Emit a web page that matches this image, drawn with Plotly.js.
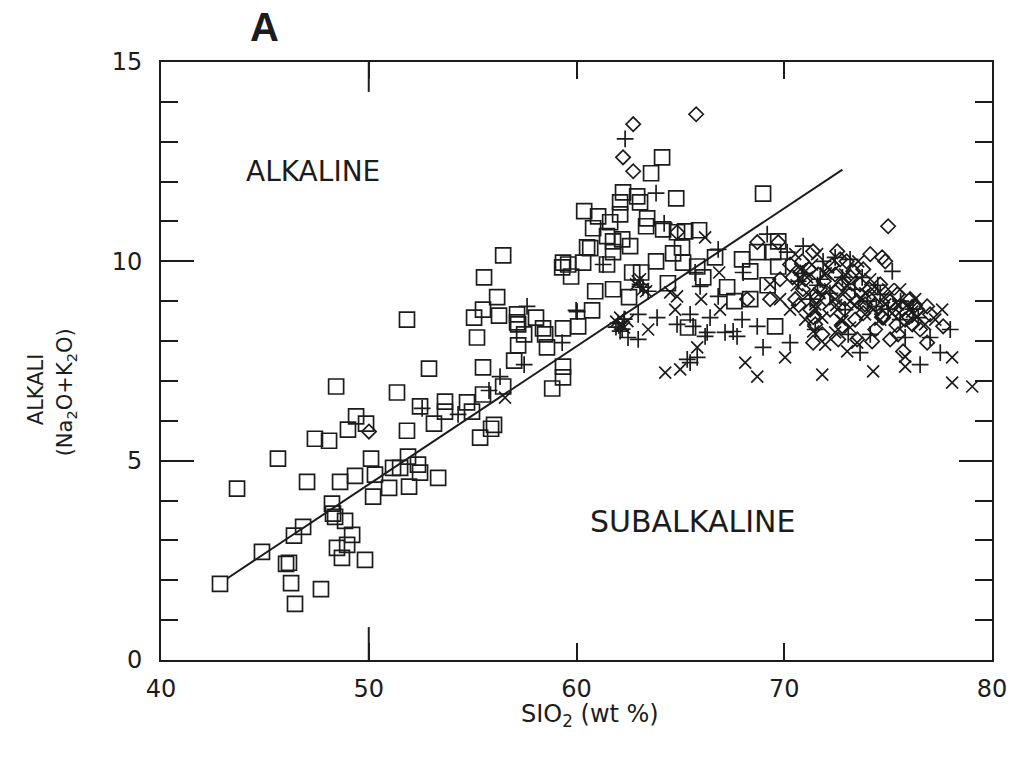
<!DOCTYPE html>
<html>
<head>
<meta charset="utf-8">
<script src="https://cdn.plot.ly/plotly-3.0.1.min.js"></script>
<style>html,body{margin:0;padding:0;background:#fff;}#chart{width:1012px;height:760px;}</style>
</head>
<body>
<div id="chart"></div>
<script>
// Squares
const sqX = [42.84,44.86,43.66,45.63,46.40,46.84,46.02,46.16,46.26,46.45,47.70,47.03,48.62,49.34,48.23,48.28,48.38,48.86,49.20,48.96,48.47,48.71,49.82,50.11,50.30,50.21,50.98,51.17,51.51,51.89,51.94,52.37,52.47,53.34,51.84,52.90,48.43,51.36,52.47,53.67,53.67,49.39,49.87,49.00,51.84,53.14,47.41,48.09,54.73,54.97,55.50,56.47,56.03,55.89,55.36,56.47,55.55,56.18,55.50,55.07,56.27,57.14,57.19,58.05,58.39,57.48,59.35,60.08,55.21,57.19,58.58,57.00,55.50,59.35,59.35,58.83,57.14,58.49,59.35,59.74,60.32,60.51,59.31,59.60,60.37,61.04,61.62,60.80,61.47,61.76,62.20,62.58,60.66,61.76,64.12,63.59,62.24,62.92,63.06,62.10,62.10,64.80,63.40,63.35,64.17,64.84,65.23,65.90,65.08,61.47,62.68,63.11,63.83,64.65,65.13,65.81,60.90,61.76,62.53,60.75,66.67,67.25,67.97,68.36,68.70,69.71,69.47,69.71,69.56,65.37,68.36,68.98,64.40,66.10,67.60,69.20];
const sqY = [1.91,2.71,4.30,5.05,3.12,3.34,2.41,2.44,1.93,1.41,1.78,4.47,4.47,4.62,3.92,3.67,3.59,3.49,3.14,2.89,2.81,2.56,2.51,5.05,4.65,4.10,4.32,4.82,4.82,5.10,4.35,4.90,4.70,4.57,8.54,7.31,6.86,6.71,6.36,6.48,6.23,6.11,5.93,5.78,5.75,5.93,5.55,5.50,6.46,6.23,6.66,6.86,5.90,5.80,5.58,10.15,9.60,9.10,8.79,8.59,8.64,8.67,8.42,8.59,8.32,8.17,8.32,8.37,8.09,7.89,7.84,7.51,7.34,7.36,7.09,6.81,8.47,8.17,9.97,9.62,9.97,10.35,9.85,9.92,11.26,11.13,10.98,10.83,10.63,10.50,10.55,10.38,10.33,10.23,12.61,12.21,11.73,11.63,11.48,11.48,11.18,11.58,11.08,10.88,10.80,10.73,10.75,10.78,10.35,9.92,9.72,9.72,10.00,10.20,9.97,9.87,9.25,9.30,9.10,8.77,10.10,9.35,10.05,9.75,10.23,10.50,10.23,9.87,8.37,8.34,9.05,11.70,9.45,9.60,9.00,9.40];

// Plus signs
const plusX = [52.57,54.30,57.62,59.98,59.31,57.48,56.32,55.79,62.34,63.83,64.22,61.28,66.82,65.71,60.03,62.97,63.88,62.48,62.97,64.84,65.61,66.29,67.15,67.54,66.19,65.81,65.47,69.18,70.14,68.02,65.95,66.82,65.47,66.43,67.73,68.98,70.28,65.33,67.97,68.70,73.65,76.54,77.51,77.99,70.91,71.87,73.17,62.00,62.20,62.30,61.90,63.06,63.45,71.73,74.62,75.58,72.93,74.14,75.82,71.25,70.67,72.45,73.75,75.20,74.43,76.45,77.02,73.08,71.49,70.90,71.60,72.20,72.80,73.40,74.00,74.50,75.00,75.60,76.20,62.10,63.20];
const plusY = [6.31,6.16,8.87,8.77,7.96,7.41,7.11,6.76,13.07,11.71,10.95,9.92,10.30,9.72,8.74,8.67,8.59,8.09,8.04,8.42,8.37,8.22,8.22,8.24,8.12,7.59,7.46,10.68,10.23,9.72,9.37,9.12,8.67,8.59,8.12,7.84,7.96,7.54,8.54,8.37,7.71,7.41,7.71,8.29,10.38,10.00,10.05,8.45,8.30,8.55,8.35,9.42,9.25,9.55,9.17,8.54,8.79,8.17,8.09,9.05,9.50,10.10,9.60,9.75,8.87,8.59,8.09,8.17,8.29,9.70,9.40,9.20,9.60,9.30,9.00,9.40,8.80,9.00,8.80,8.25,9.35];

// X signs
const crossX = [56.56,66.19,64.51,64.84,64.75,66.00,66.87,66.91,63.45,64.27,64.99,65.81,68.12,68.70,70.04,71.83,73.03,74.28,75.82,78.08,78.08,79.05,73.51,71.39,72.45,71.58,75.82,61.91,62.29,62.10,62.87,63.35,63.06,70.77,72.21,73.65,74.62,75.58,72.69,71.49,74.14,74.86,76.30,71.01,71.97,70.53,71.34,72.11,72.93,73.56,74.23,75.00,75.48,76.16,73.89,73.17,72.45,71.83,71.15,70.28,69.80,69.32,76.78,77.27,77.60,70.60,71.10,71.70,72.00,72.50,73.00,73.40,73.90,74.30,74.80,75.20,75.90,76.40,72.80,71.50,62.20,62.45,63.20,62.95];
const crossY = [6.58,10.60,9.22,9.12,8.79,9.05,9.72,8.79,8.29,7.21,7.29,7.84,7.46,7.11,7.59,7.16,7.74,7.24,7.36,7.59,6.96,6.86,7.96,8.24,8.22,10.18,7.61,8.49,8.34,8.59,9.42,9.25,9.55,9.80,9.30,9.05,8.54,9.30,8.54,8.92,9.55,8.92,9.05,8.54,7.91,10.18,9.92,9.85,9.67,10.00,9.30,9.30,8.92,8.74,8.67,8.34,9.05,8.59,9.17,8.79,9.05,9.42,8.42,8.54,8.79,9.40,9.60,9.20,9.70,8.90,9.40,8.90,9.20,8.80,9.10,8.70,8.90,8.60,8.50,8.80,8.40,8.50,9.30,9.50];

// Diamonds
const diaX = [65.76,62.73,62.24,62.73,50.01,64.84,75.00,74.71,72.55,71.39,68.70,69.71,68.21,76.88,76.40,77.02,77.65,76.88,75.72,74.23,72.79,71.39,70.77,73.80,70.28,71.01,71.73,72.45,73.17,73.89,74.62,75.34,76.06,75.82,73.41,72.21,71.49,74.38,75.10,72.69,74.14,70.53,73.65,72.93,76.54,69.80,69.32,70.86,71.63,72.02,72.79,73.32,74.04,74.76,75.44,76.16,73.51,72.60,71.83,75.48,74.86,71.25,70.40,70.90,71.20,71.60,71.90,72.30,72.60,72.90,73.20,73.50,73.80,74.10,74.40,74.70,75.10,75.40,75.70,76.00,76.30,73.00,71.40,70.70];
const diaY = [13.69,13.44,12.61,12.26,5.73,10.73,10.88,10.10,10.25,10.25,10.48,10.48,9.05,8.87,8.79,8.67,8.37,7.96,7.74,7.99,8.37,7.96,9.72,9.80,9.92,9.55,9.30,9.67,9.17,8.92,9.42,8.79,9.05,8.54,8.54,8.79,8.42,8.29,8.04,10.05,10.18,9.05,9.42,9.05,8.29,9.55,9.05,10.00,9.67,9.05,9.42,9.75,9.10,8.59,9.17,8.42,8.04,8.04,8.17,8.17,10.00,8.79,9.60,9.30,9.80,9.10,9.50,9.90,9.30,8.80,9.60,9.00,8.70,9.30,8.90,8.60,9.00,8.40,8.80,8.60,8.90,10.00,8.60,8.90];

// Alkaline / subalkaline divide
const lineX = [43.2, 72.8];
const lineY = [2.05, 12.3];

const ink = '#1c1c1c';
const font = 'DejaVu Sans, sans-serif';

function mk(symbol, size) {
  return {symbol: symbol, size: size, color: ink, line: {color: ink, width: 1.7}};
}

const traces = [
  {x: lineX, y: lineY, mode: 'lines', line: {color: ink, width: 2}, hoverinfo: 'skip'},
  {x: sqX, y: sqY, mode: 'markers', marker: mk('square-open', 15)},
  {x: plusX, y: plusY, mode: 'markers', marker: mk('cross-thin-open', 12)},
  {x: crossX, y: crossY, mode: 'markers', marker: mk('x-thin-open', 12)},
  {x: diaX, y: diaY, mode: 'markers', marker: mk('diamond-open', 11)}
];

function ann(text, xref, yref, x, y, size, extra) {
  return Object.assign({text: text, xref: xref, yref: yref, x: x, y: y, showarrow: false,
    xanchor: 'center', yanchor: 'middle', font: {size: size, family: font, color: ink}}, extra || {});
}

const layout = {
  width: 1012, height: 760,
  margin: {l: 161, r: 20, t: 62, b: 100},
  paper_bgcolor: '#fff', plot_bgcolor: '#fff',
  showlegend: false,
  font: {family: font, color: ink},
  xaxis: {
    range: [40, 80], dtick: 10, tick0: 40,
    ticks: 'inside', ticklen: 17, tickwidth: 2, tickcolor: ink,
    showline: true, linewidth: 2, linecolor: ink, mirror: 'ticks',
    showgrid: false, zeroline: false,
    tickfont: {size: 24, family: font, color: ink},
    ticklabelstandoff: 6
  },
  yaxis: {
    range: [0, 15], dtick: 5, tick0: 0,
    ticks: 'inside', ticklen: 33, tickwidth: 2, tickcolor: ink,
    minor: {dtick: 1, ticks: 'inside', ticklen: 17, tickwidth: 2, tickcolor: ink, showgrid: false},
    showline: true, linewidth: 2, linecolor: ink, mirror: 'ticks',
    showgrid: false, zeroline: false,
    tickfont: {size: 24, family: font, color: ink},
    ticklabelstandoff: 12
  },
  shapes: [
    {type: 'line', xref: 'x', yref: 'paper', x0: 50, x1: 50, y0: 0, y1: 0.055, line: {color: ink, width: 2}},
    {type: 'line', xref: 'x', yref: 'paper', x0: 50, x1: 50, y0: 1, y1: 0.95, line: {color: ink, width: 2}}
  ],
  annotations: [
    ann('<b>A</b>', 'paper', 'paper', 0.125, 1.058, 40, {font: {size: 40, family: 'Liberation Sans, Arial, sans-serif', color: ink}}),
    ann('ALKALINE', 'x', 'y', 47.32, 12.26, 28),
    ann('SUBALKALINE', 'x', 'y', 65.6, 3.47, 30),
    ann('SIO<sub>2</sub> (wt %)', 'paper', 'paper', 0.516, -0.092, 24),
    ann('ALKALI', 'paper', 'paper', -0.151, 0.452, 21, {textangle: -90}),
    ann('(Na<sub>2</sub>O+K<sub>2</sub>O)', 'paper', 'paper', -0.114, 0.448, 21, {textangle: -90})
  ]
};

Plotly.newPlot('chart', traces, layout, {displayModeBar: false, staticPlot: true});
</script>
</body>
</html>
